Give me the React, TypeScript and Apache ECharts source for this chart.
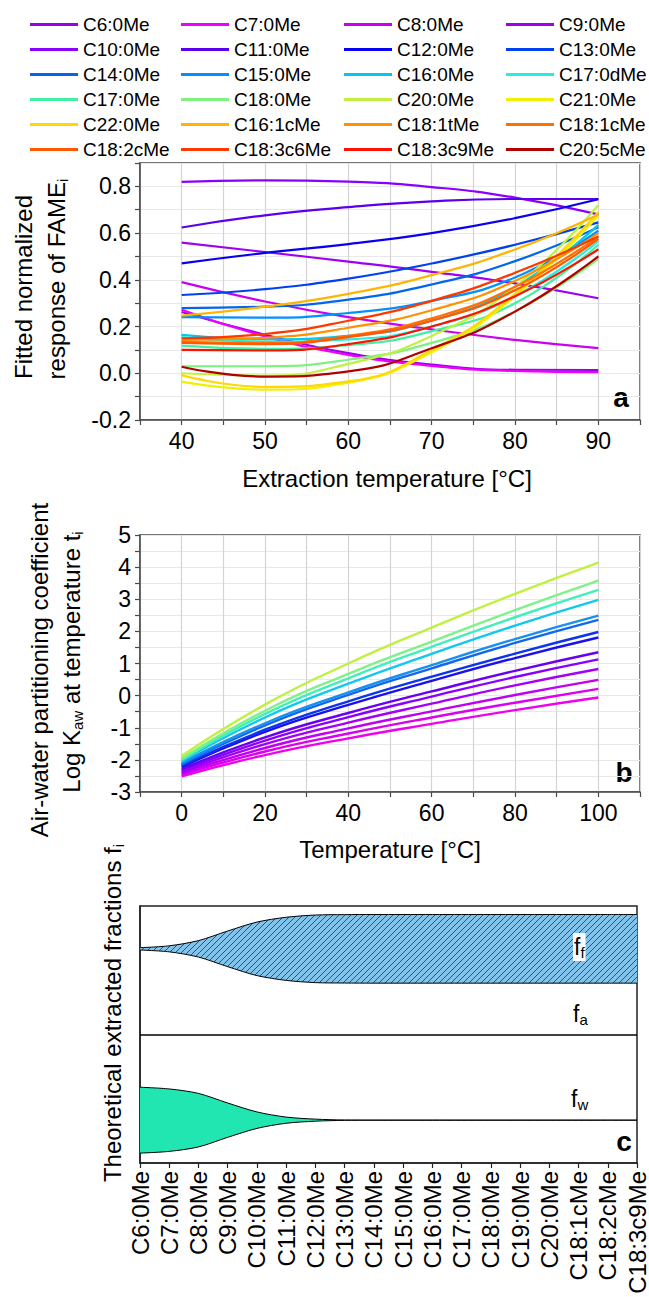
import React, { useEffect, useRef } from 'react';
import * as echarts from 'echarts';

// ---------- Panel a: fitted normalized response vs extraction temperature ----------
const extractionTemps = [40, 50, 60, 70, 80, 90];

const fameNames = [
  'C6:0Me', 'C7:0Me', 'C8:0Me', 'C9:0Me',
  'C10:0Me', 'C11:0Me', 'C12:0Me', 'C13:0Me',
  'C14:0Me', 'C15:0Me', 'C16:0Me', 'C17:0dMe',
  'C17:0Me', 'C18:0Me', 'C20:0Me', 'C21:0Me',
  'C22:0Me', 'C16:1cMe', 'C18:1tMe', 'C18:1cMe',
  'C18:2cMe', 'C18:3c6Me', 'C18:3c9Me', 'C20:5cMe',
];

const fameColors = [
  '#9b00e8', '#ee00ff', '#cc00ee', '#a000f0',
  '#8a00ff', '#5a00ee', '#0a00f0', '#0040f0',
  '#0066ee', '#0090ff', '#00c8f0', '#20f0e0',
  '#40f0a0', '#80f080', '#c0f040', '#f0f000',
  '#ffd800', '#ffb400', '#ff9000', '#ff7000',
  '#ff5800', '#ff3800', '#ff1000', '#b00000',
];

const responseC6 = [0.262, 0.165, 0.086, 0.037, 0.015, 0.014];
const responseC7 = [0.272, 0.158, 0.079, 0.032, 0.010, 0.005];
const responseC8 = [0.390, 0.307, 0.240, 0.188, 0.143, 0.108];
const responseC9 = [0.559, 0.519, 0.478, 0.434, 0.385, 0.321];
const responseC10 = [0.819, 0.826, 0.820, 0.797, 0.752, 0.680];
const responseC11 = [0.624, 0.676, 0.711, 0.736, 0.746, 0.746];
const responseC12 = [0.470, 0.515, 0.553, 0.600, 0.664, 0.745];
const responseC13 = [0.335, 0.360, 0.405, 0.470, 0.550, 0.646];
const responseC14 = [0.279, 0.285, 0.315, 0.380, 0.480, 0.625];
const responseC15 = [0.240, 0.238, 0.258, 0.310, 0.410, 0.610];
const responseC16 = [0.164, 0.145, 0.160, 0.225, 0.370, 0.635];
const responseC17d = [0.155, 0.135, 0.145, 0.200, 0.330, 0.565];
const responseC17 = [0.118, 0.105, 0.120, 0.180, 0.300, 0.550];
const responseC18 = [0.030, 0.030, 0.058, 0.130, 0.265, 0.490];
const responseC20 = [0.000, -0.010, 0.040, 0.160, 0.370, 0.720];
const responseC21 = [-0.036, -0.070, -0.040, 0.090, 0.330, 0.675];
const responseC22 = [-0.008, -0.058, -0.035, 0.100, 0.340, 0.690];
const responseC16_1c = [0.247, 0.285, 0.340, 0.420, 0.530, 0.680];
const responseC18_1t = [0.143, 0.152, 0.195, 0.270, 0.395, 0.600];
const responseC18_1c = [0.135, 0.130, 0.160, 0.235, 0.370, 0.585];
const responseC18_2c = [0.130, 0.125, 0.155, 0.225, 0.355, 0.575];
const responseC18_3c6 = [0.150, 0.168, 0.225, 0.310, 0.430, 0.585];
const responseC18_3c9 = [0.100, 0.098, 0.125, 0.200, 0.330, 0.531];
const responseC20_5c = [0.028, -0.014, 0.008, 0.107, 0.264, 0.500];

const fameResponses = [
  responseC6, responseC7, responseC8, responseC9,
  responseC10, responseC11, responseC12, responseC13,
  responseC14, responseC15, responseC16, responseC17d,
  responseC17, responseC18, responseC20, responseC21,
  responseC22, responseC16_1c, responseC18_1t, responseC18_1c,
  responseC18_2c, responseC18_3c6, responseC18_3c9, responseC20_5c,
];

// ---------- Panel b: log Kaw vs temperature ----------
const kawTemps = [0, 20, 40, 60, 80, 100];
const kawNames = [
  'C6:0Me', 'C7:0Me', 'C8:0Me', 'C9:0Me', 'C10:0Me', 'C11:0Me', 'C12:0Me',
  'C13:0Me', 'C14:0Me', 'C15:0Me', 'C16:0Me', 'C17:0Me', 'C18:0Me', 'C20:0Me',
];
const kawColors = [
  '#f000f0', '#dc00f0', '#c000f0', '#a400f6', '#8a00ff', '#6a00f0', '#1a10f0',
  '#0a34f0', '#1466f0', '#1890f0', '#10c8f0', '#40f0b8', '#80f088', '#c0f040',
];
const kawC6 = [-2.51, -1.85, -1.33, -0.88, -0.45, -0.06];
const kawC7 = [-2.46, -1.74, -1.18, -0.68, -0.22, 0.21];
const kawC8 = [-2.42, -1.63, -1.02, -0.49, 0.02, 0.49];
const kawC9 = [-2.38, -1.51, -0.84, -0.25, 0.32, 0.83];
const kawC10 = [-2.33, -1.40, -0.67, -0.03, 0.58, 1.13];
const kawC11 = [-2.28, -1.30, -0.54, 0.13, 0.77, 1.35];
const kawC12 = [-2.22, -1.13, -0.29, 0.46, 1.17, 1.81];
const kawC13 = [-2.18, -1.06, -0.18, 0.59, 1.31, 1.98];
const kawC14 = [-2.14, -0.93, 0.02, 0.85, 1.64, 2.36];
const kawC15 = [-2.10, -0.86, 0.10, 0.95, 1.76, 2.49];
const kawC16 = [-2.04, -0.68, 0.37, 1.30, 2.18, 2.98];
const kawC17 = [-2.00, -0.57, 0.54, 1.52, 2.44, 3.29];
const kawC18 = [-1.96, -0.47, 0.68, 1.68, 2.66, 3.58];
const kawC20 = [-1.88, -0.28, 1.00, 2.12, 3.17, 4.14];
const kawValues = [
  kawC6, kawC7, kawC8, kawC9, kawC10, kawC11, kawC12,
  kawC13, kawC14, kawC15, kawC16, kawC17, kawC18, kawC20,
];

// ---------- Panel c: theoretical extracted fractions ----------
const fractionCategories = [
  'C6:0Me', 'C7:0Me', 'C8:0Me', 'C9:0Me', 'C10:0Me', 'C11:0Me', 'C12:0Me',
  'C13:0Me', 'C14:0Me', 'C15:0Me', 'C16:0Me', 'C17:0Me', 'C18:0Me', 'C19:0Me',
  'C20:0Me', 'C18:1cMe', 'C18:2cMe', 'C18:3c9Me',
];
const fibreFraction = [0.034, 0.088, 0.24, 0.52, 0.78, 0.92, 0.985, 0.997, 1, 1, 1, 1, 1, 1, 1, 1, 1, 1];
const waterFraction = [0.96, 0.91, 0.78, 0.5, 0.24, 0.09, 0.03, 0.005, 0, 0, 0, 0, 0, 0, 0, 0, 0, 0];

const FONT = "'Liberation Sans', Arial, Helvetica, sans-serif";

function makeHatch() {
  const c = document.createElement('canvas');
  c.width = 6;
  c.height = 6;
  const g = c.getContext('2d')!;
  g.fillStyle = '#82c3eb';
  g.fillRect(0, 0, 6, 6);
  g.strokeStyle = '#1e3350';
  g.lineWidth = 0.8;
  g.beginPath();
  g.moveTo(0, 6); g.lineTo(6, 0);
  g.moveTo(-1, 1); g.lineTo(1, -1);
  g.moveTo(5, 7); g.lineTo(7, 5);
  g.stroke();
  return c;
}

const App = () => {
  const ref = useRef<HTMLDivElement>(null);
  useEffect(() => {
    const chart = echarts.init(ref.current!, null, { renderer: 'svg' });
    const axisGray = '#4a4a4a';
    const gridA = { left: 140, top: 163, width: 500, height: 257 };
    const gridB = { left: 140, top: 535, width: 500, height: 257 };
    const gridC = { left: 140, top: 906, width: 500, height: 257 };

    const valueAxisCommon = {
      axisLine: { show: true, onZero: false, lineStyle: { color: axisGray, width: 1.5 } },
      axisTick: { show: true, length: 5, lineStyle: { color: axisGray, width: 1.2 } },
    };

    const legendCols = [0, 1, 2, 3].map((col) => ({
      orient: 'vertical',
      left: [30, 181, 344, 506][col],
      top: 12,
      padding: 0,
      itemGap: 0,
      itemWidth: 48,
      itemHeight: 3,
      icon: 'rect',
      selectedMode: false,
      textStyle: { fontSize: 19, lineHeight: 25, color: '#000', fontFamily: FONT },
      data: fameNames.filter((_, i) => i % 4 === col),
    }));

    const seriesA = fameNames.map((name, i) => ({
      type: 'line',
      name,
      xAxisIndex: 0,
      yAxisIndex: 0,
      smooth: true,
      symbol: 'none',
      lineStyle: { width: 2.2, color: fameColors[i] },
      itemStyle: { color: fameColors[i] },
      data: extractionTemps.map((t, k) => [t, fameResponses[i][k]]),
    }));

    const seriesB = kawNames.map((name, i) => ({
      type: 'line',
      name: 'logKaw ' + name,
      xAxisIndex: 1,
      yAxisIndex: 1,
      smooth: true,
      symbol: 'none',
      lineStyle: { width: 2.4, color: kawColors[i] },
      itemStyle: { color: kawColors[i] },
      data: kawTemps.map((t, k) => [t, kawValues[i][k]]),
    }));

    const BAND = 0.1335;
    const fibreCentre = 5 / 6;
    const waterCentre = 1 / 6;
    const edge = { color: '#000', width: 1 };
    const hatch = { image: makeHatch(), repeat: 'repeat', imageWidth: 6, imageHeight: 6 };

    const seriesC = [
      {
        type: 'line', name: 'fibre lower', xAxisIndex: 2, yAxisIndex: 2, stack: 'ff',
        smooth: 0.3, symbol: 'none', z: 4, lineStyle: edge, itemStyle: { color: '#000' },
        data: fibreFraction.map((f) => fibreCentre - BAND * f),
        markLine: {
          silent: true, symbol: 'none', label: { show: false },
          lineStyle: { color: '#000', width: 1.5, type: 'solid' },
          data: [{ yAxis: 0.5 }],
        },
      },
      {
        type: 'line', name: 'fibre', xAxisIndex: 2, yAxisIndex: 2, stack: 'ff',
        smooth: 0.3, symbol: 'none', z: 3, lineStyle: edge, itemStyle: { color: '#000' },
        areaStyle: { color: hatch, opacity: 1 },
        data: fibreFraction.map((f) => 2 * BAND * f),
      },
      {
        type: 'line', name: 'water lower', xAxisIndex: 2, yAxisIndex: 2, stack: 'fw',
        smooth: 0.3, symbol: 'none', z: 4, lineStyle: edge, itemStyle: { color: '#000' },
        data: waterFraction.map((f) => waterCentre - BAND * f),
      },
      {
        type: 'line', name: 'water', xAxisIndex: 2, yAxisIndex: 2, stack: 'fw',
        smooth: 0.3, symbol: 'none', z: 3, lineStyle: edge, itemStyle: { color: '#000' },
        areaStyle: { color: '#22e6b2', opacity: 1 },
        data: waterFraction.map((f) => 2 * BAND * f),
      },
    ];

    const rot = Math.PI / 2;
    const titleRich = {
      n: { fontSize: 24, lineHeight: 28, fontFamily: FONT, color: '#000' },
      s: { fontSize: 15, lineHeight: 10, verticalAlign: 'bottom', fontFamily: FONT, color: '#000' },
    };
    const rtext = (text: string, x: number, y: number) => ({
      type: 'text', x, y, rotation: rot, silent: true,
      style: { text, rich: titleRich, align: 'center', verticalAlign: 'middle', fontFamily: FONT, fontSize: 24, fill: '#000' },
    });
    const htext = (text: string, x: number, y: number, extra: any = {}) => ({
      type: 'text', x, y, silent: true,
      style: { text, align: 'center', verticalAlign: 'middle', fontFamily: FONT, fontSize: 24, fill: '#000', ...extra },
    });
    const fRich = {
      f: { fontSize: 23, lineHeight: 26, fontFamily: FONT, color: '#000' },
      s: { fontSize: 15, lineHeight: 10, verticalAlign: 'bottom', fontFamily: FONT, color: '#000' },
    };

    const option = {
      animation: false,
      backgroundColor: '#fff',
      textStyle: { fontFamily: FONT },
      legend: legendCols,
      grid: [
        { ...gridA, show: true, borderColor: axisGray, borderWidth: 1.5, backgroundColor: '#fff' },
        { ...gridB, show: true, borderColor: axisGray, borderWidth: 1.5, backgroundColor: '#fff' },
        { ...gridC, show: true, borderColor: '#222', borderWidth: 1.5, backgroundColor: '#fff' },
      ],
      xAxis: [
        {
          gridIndex: 0, type: 'value', min: 35, max: 95, interval: 5, ...valueAxisCommon,
          axisLabel: { fontSize: 23, color: '#000', margin: 9, formatter: (v: number) => (v % 10 === 0 ? String(v) : '') },
          splitLine: { show: true, lineStyle: { color: '#d4d4d4', width: 1.2 } },
        },
        {
          gridIndex: 1, type: 'value', min: -10, max: 110, interval: 10, ...valueAxisCommon,
          axisLabel: { fontSize: 23, color: '#000', margin: 9, formatter: (v: number) => (v % 20 === 0 ? String(v) : '') },
          splitLine: { show: true, lineStyle: { color: '#d4d4d4', width: 1.2 } },
        },
        {
          gridIndex: 2, type: 'category', data: fractionCategories, boundaryGap: false,
          axisLine: { show: true, onZero: false, lineStyle: { color: '#222', width: 1.5 } },
          axisTick: { show: true, length: 5, interval: 0, lineStyle: { color: '#222', width: 1.2 } },
          axisLabel: { interval: 0, rotate: 90, fontSize: 24, color: '#000', margin: 8 },
          splitLine: { show: false },
        },
      ],
      yAxis: [
        {
          gridIndex: 0, type: 'value', min: -0.2, max: 0.9, interval: 0.1, ...valueAxisCommon,
          axisLabel: {
            fontSize: 23, color: '#000', margin: 9,
            formatter: (v: number) => (Math.round(v * 10) % 2 === 0 ? v.toFixed(1) : ''),
          },
          splitLine: { show: true, lineStyle: { color: '#e8e8e8', width: 1.2 } },
        },
        {
          gridIndex: 1, type: 'value', min: -3, max: 5, interval: 0.5, ...valueAxisCommon,
          axisLabel: {
            fontSize: 23, color: '#000', margin: 9,
            formatter: (v: number) => (Number.isInteger(v) ? String(v) : ''),
          },
          splitLine: { show: true, lineStyle: { color: '#e8e8e8', width: 1.2 } },
        },
        {
          gridIndex: 2, type: 'value', min: 0, max: 1,
          axisLine: { show: true, onZero: false, lineStyle: { color: '#222', width: 1.5 } },
          axisTick: { show: false }, axisLabel: { show: false }, splitLine: { show: false },
        },
      ],
      graphic: [
        rtext('{n|Fitted normalized}', 23, 287),
        rtext('{n|response of FAME}{s|i}', 56, 279),
        rtext('{n|Air-water partitioning coefficient}', 39, 670),
        rtext('{n|Log K}{s|aw}{n| at temperature t}{s|i}', 71, 662),
        rtext('{n|Theoretical extracted fractions f}{s|i}', 112, 1013),
        htext('Extraction temperature [°C]', 387, 478),
        htext('Temperature [°C]', 390, 849),
        htext('a', 621, 397, { fontSize: 28, fontWeight: 'bold' }),
        htext('b', 624, 772, { fontSize: 28, fontWeight: 'bold' }),
        htext('c', 624, 1141, { fontSize: 28, fontWeight: 'bold' }),
        {
          type: 'text', x: 573, y: 947, silent: true, z: 10,
          style: { text: '{f|f}{s|f}', rich: fRich, align: 'left', verticalAlign: 'middle', backgroundColor: '#fff', padding: [1, 1, 1, 1] },
        },
        {
          type: 'text', x: 573, y: 1014, silent: true, z: 10,
          style: { text: '{f|f}{s|a}', rich: fRich, align: 'left', verticalAlign: 'middle' },
        },
        {
          type: 'text', x: 571, y: 1099, silent: true, z: 10,
          style: { text: '{f|f}{s|w}', rich: fRich, align: 'left', verticalAlign: 'middle' },
        },
      ],
      series: [...seriesA, ...seriesB, ...seriesC],
    };

    chart.setOption(option as any);
    return () => chart.dispose();
  }, []);
  return <div ref={ref} style={{ position: 'absolute', left: 0, top: 0, width: 649, height: 1297 }} />;
};

export default App;
